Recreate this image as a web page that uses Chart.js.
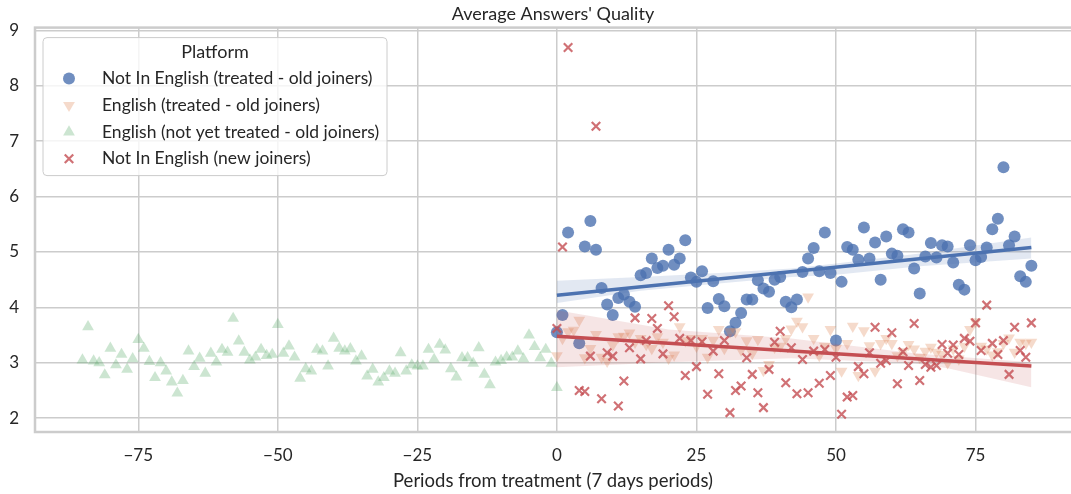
<!DOCTYPE html>
<html>
<head>
<meta charset="utf-8">
<script src="https://cdn.jsdelivr.net/npm/chart.js@4.4.1/dist/chart.umd.min.js"></script>
<style>
  html, body { margin: 0; padding: 0; background: #fff; }
</style>
</head>
<body>
<canvas id="chart" width="1071" height="494"></canvas>
<script>
// periods: green runs from -85 to 0, the other three from 0 to 85
const firstPeriodBefore = -85;
const firstPeriodAfter = 0;

// English (not yet treated - old joiners)
const greenValues = [
  3.05, 3.65, 3.03, 3.00, 2.78, 3.26, 2.96, 3.15, 2.88, 3.07,
  3.42, 3.26, 3.02, 2.73, 3.00, 2.85, 2.65, 2.45, 2.68, 3.21,
  2.93, 3.08, 2.81, 3.17, 3.01, 3.24, 3.19, 3.80, 3.39, 3.19,
  3.05, 3.10, 3.24, 3.13, 3.15, 3.69, 3.17, 3.30, 3.10, 2.72,
  2.89, 2.85, 3.24, 3.21, 2.94, 3.44, 3.26, 3.21, 3.25, 3.03,
  3.12, 2.76, 2.88, 2.65, 2.73, 2.85, 2.81, 3.18, 2.85, 2.96,
  2.94, 2.94, 3.24, 3.06, 3.33, 3.23, 2.89, 2.74, 3.09, 3.09,
  2.99, 3.27, 2.79, 2.60, 3.01, 3.04, 3.10, 3.10, 3.21, 3.07,
  3.50, 3.29, 3.09, 3.24, 2.99, 2.55
];

// Not In English (treated - old joiners), null = no value that week
const blueValues = [
  3.55, 3.86, 5.35, null, 3.35, 5.10, 5.56, 5.04, 4.35, 4.05,
  3.86, 4.17, 4.23, 4.10, 4.01, 4.58, 4.62, 4.88, 4.71, 4.75,
  5.04, 4.77, 4.88, 5.21, 4.54, 4.46, 4.65, 3.99, 4.47, 4.15,
  4.02, 3.57, 3.72, 3.90, 4.14, 4.14, 4.49, 4.34, 4.28, 4.50,
  4.55, 4.10, 4.00, 4.14, 4.64, 4.88, 5.07, 4.65, 5.35, 4.62,
  3.40, 4.46, 5.09, 5.04, 4.86, 5.44, 4.88, 5.17, 4.50, 5.28,
  4.97, 4.93, 5.41, 5.35, 4.70, 4.25, 4.92, 5.16, 4.90, 5.12,
  5.10, 4.81, 4.41, 4.32, 5.12, 4.85, 4.91, 5.08, 5.41, 5.60,
  6.53, 5.12, 5.28, 4.56, 4.46, 4.75
];

// English (treated - old joiners)
const orangeValues = [
  3.13, 3.44, 3.56, 3.59, 3.77, 3.09, 3.26, 3.51, 3.10, 3.03,
  3.32, 3.47, 3.48, 3.54, 3.37, 3.44, 3.33, 3.26, 3.47, 3.37,
  3.08, 3.14, 3.65, 3.40, 3.44, 3.30, 3.44, 3.10, 3.41, 3.60,
  3.26, 3.56, 3.56, 3.23, 3.40, 3.17, 3.42, 2.86, 2.97, 3.28,
  3.30, 3.44, 3.61, 3.75, 3.65, 4.19, 3.44, 3.13, 3.30, 3.60,
  3.26, 2.85, 3.35, 3.66, 2.77, 3.58, 3.31, 2.85, 3.35, 3.44,
  3.35, 3.13, 3.20, 3.33, 3.25, 3.10, 3.21, 3.28, 3.19, 3.15,
  3.00, 3.25, 3.07, 3.30, 3.60, 3.74, 3.30, 3.25, 3.14, 3.20,
  3.35, 3.45, 3.19, 3.37, 3.35, 3.37
];

// Not In English (new joiners)
const redValues = [
  3.62, 5.09, 8.69, null, 2.50, 2.48, 3.12, 7.27, 2.35, 3.18,
  3.12, 2.22, 2.67, 3.27, 3.81, 3.07, 3.40, 3.80, 3.62, 3.16,
  4.03, 3.83, 3.44, 2.77, 3.40, 2.93, 3.38, 2.43, 3.21, 2.80,
  3.40, 2.10, 2.50, 2.58, 3.09, 2.79, 2.46, 2.19, 2.88, 3.37,
  3.57, 2.64, 3.27, 2.44, 3.06, 2.46, 3.21, 2.63, 3.24, 2.77,
  3.10, 2.07, 2.38, 2.41, 2.93, 2.80, 3.18, 3.64, 2.99, 3.04,
  3.54, 2.62, 3.20, 2.95, 3.71, 2.68, 2.97, 2.92, 2.95, 3.33,
  3.17, 3.32, 3.15, 3.44, 3.39, 3.72, 3.22, 4.04, 3.35, 3.15,
  3.40, 2.79, 3.64, 3.22, 3.10, 3.72
];

// fitted lines and their confidence bands
const fitX = [0, 85];
const blueFit = [4.22, 5.08];
const redFit = [3.48, 2.94];
const blueBandX = [0, 15, 29, 42, 50, 65, 85];
const blueLow = [4.08, 4.30, 4.43, 4.55, 4.59, 4.74, 4.88];
const blueHigh = [4.48, 4.55, 4.62, 4.70, 4.79, 4.97, 5.26];
const redBandX = [0, 20, 42, 64, 70, 85];
const redLow = [2.92, 3.01, 3.08, 2.99, 2.90, 2.56];
const redHigh = [3.95, 3.60, 3.44, 3.17, 3.12, 3.01];

const xTicks = [-75, -50, -25, 0, 25, 50, 75];
const yTicks = [2, 3, 4, 5, 6, 7, 8, 9];

const BLUE = '76, 114, 176';
const ORANGE = '221, 132, 82';
const GREEN = '85, 168, 104';
const RED = '196, 78, 82';
const TEXT = '#262626';

function toPoints(values, start) {
  return values.map((v, i) => ({ x: start + i, y: v }));
}
function pairs(xs, ys) {
  return xs.map((x, i) => ({ x: x, y: ys[i] }));
}

Chart.defaults.font.family = 'Lato, "DejaVu Sans", sans-serif';
Chart.defaults.color = TEXT;

// light grey frame round the plot area
const frame = {
  id: 'frame',
  beforeDatasetsDraw(chart) {
    const a = chart.chartArea;
    const ctx = chart.ctx;
    ctx.save();
    ctx.strokeStyle = '#cccccc';
    ctx.lineWidth = 2.5;
    ctx.strokeRect(a.left, a.top, a.right - a.left + 10, a.bottom - a.top);
    ctx.restore();
  }
};

// boxed legend in the upper left corner, like matplotlib's
const legendBox = {
  id: 'legendBox',
  afterDraw(chart) {
    const ctx = chart.ctx;
    const a = chart.chartArea;
    const x = a.left + 8, y = a.top + 10, w = 344, h = 138;
    const items = chart.data.datasets.filter(d => d.inLegend);
    ctx.save();
    ctx.beginPath();
    ctx.roundRect(x, y, w, h, 4);
    ctx.fillStyle = 'rgba(255,255,255,0.8)';
    ctx.fill();
    ctx.strokeStyle = '#cccccc';
    ctx.lineWidth = 1;
    ctx.stroke();

    ctx.fillStyle = TEXT;
    ctx.textBaseline = 'middle';
    ctx.textAlign = 'center';
    ctx.font = '18px ' + Chart.defaults.font.family;
    ctx.fillText('Platform', x + w / 2, y + 15);

    ctx.textAlign = 'left';
    ctx.font = '17.5px ' + Chart.defaults.font.family;
    items.forEach((d, i) => {
      const cy = y + 41 + i * 26.7;
      ctx.fillStyle = d.backgroundColor;
      ctx.strokeStyle = d.borderColor;
      ctx.lineWidth = d.borderWidth || 0;
      Chart.helpers.drawPoint(ctx, {
        pointStyle: d.pointStyle,
        radius: d.pointRadius,
        rotation: d.rotation || 0,
        borderWidth: d.borderWidth || 0
      }, x + 26, cy);
      ctx.fillStyle = TEXT;
      ctx.fillText(d.label, x + 59, cy);
    });
    ctx.restore();
  }
};

new Chart(document.getElementById('chart'), {
  type: 'scatter',
  data: {
    datasets: [
      { type: 'line', data: pairs(blueBandX, blueLow), borderWidth: 0, pointRadius: 0, fill: false, order: 5 },
      { type: 'line', data: pairs(blueBandX, blueHigh), borderWidth: 0, pointRadius: 0,
        fill: '-1', backgroundColor: 'rgba(' + BLUE + ', 0.16)', order: 5 },
      { type: 'line', data: pairs(redBandX, redLow), borderWidth: 0, pointRadius: 0, fill: false, order: 5 },
      { type: 'line', data: pairs(redBandX, redHigh), borderWidth: 0, pointRadius: 0,
        fill: '-1', backgroundColor: 'rgba(' + RED + ', 0.15)', order: 5 },
      { type: 'line', data: pairs(fitX, blueFit), borderColor: 'rgb(' + BLUE + ')', borderWidth: 3.5,
        pointRadius: 0, fill: false, order: 1 },
      { type: 'line', data: pairs(fitX, redFit), borderColor: 'rgb(' + RED + ')', borderWidth: 3.5,
        pointRadius: 0, fill: false, order: 1 },
      {
        label: 'Not In English (treated - old joiners)', inLegend: true,
        data: toPoints(blueValues, firstPeriodAfter),
        pointStyle: 'circle', pointRadius: 6,
        backgroundColor: 'rgba(' + BLUE + ', 0.8)', borderColor: 'rgba(' + BLUE + ', 0.8)', borderWidth: 0,
        order: 10
      },
      {
        label: 'English (treated - old joiners)', inLegend: true,
        data: toPoints(orangeValues, firstPeriodAfter),
        pointStyle: 'triangle', rotation: 180, pointRotation: 180, pointRadius: 6.8,
        backgroundColor: 'rgba(' + ORANGE + ', 0.3)', borderColor: 'rgba(' + ORANGE + ', 0.3)', borderWidth: 0,
        order: 9
      },
      {
        label: 'English (not yet treated - old joiners)', inLegend: true,
        data: toPoints(greenValues, firstPeriodBefore),
        pointStyle: 'triangle', pointRadius: 6.8,
        backgroundColor: 'rgba(' + GREEN + ', 0.3)', borderColor: 'rgba(' + GREEN + ', 0.3)', borderWidth: 0,
        order: 8
      },
      {
        label: 'Not In English (new joiners)', inLegend: true,
        data: toPoints(redValues, firstPeriodAfter),
        pointStyle: 'crossRot', pointRadius: 6,
        backgroundColor: 'rgba(' + RED + ', 0.8)', borderColor: 'rgba(' + RED + ', 0.8)', borderWidth: 2.2,
        order: 7
      }
    ]
  },
  options: {
    responsive: false,
    animation: false,
    spanGaps: false,
    layout: { autoPadding: false, padding: { left: 0, right: 0, top: 0, bottom: 2 } },
    plugins: {
      legend: { display: false },
      tooltip: { enabled: false },
      title: {
        display: true,
        fullSize: false,
        text: "Average Answers' Quality",
        color: TEXT,
        font: { size: 18, weight: 'normal' },
        padding: { top: 3, bottom: 3 }
      }
    },
    scales: {
      x: {
        type: 'linear',
        min: -93.5,
        max: 92.1,
        afterBuildTicks: s => { s.ticks = xTicks.map(v => ({ value: v })); },
        afterFit: s => { s.height = 60; s.paddingLeft = 0; s.paddingRight = 0; },
        grid: { color: '#cccccc', lineWidth: 1.5, drawTicks: false },
        border: { display: false },
        ticks: {
          padding: 13,
          color: TEXT,
          font: { size: 17 },
          callback: v => (v < 0 ? '\u2212' + Math.abs(v) : String(v))
        },
        title: {
          display: true,
          text: 'Periods from treatment (7 days periods)',
          color: TEXT,
          font: { size: 18.5 },
          padding: { top: 0, bottom: 0 }
        }
      },
      y: {
        type: 'linear',
        min: 1.75,
        max: 9.05,
        afterBuildTicks: s => { s.ticks = yTicks.map(v => ({ value: v })); },
        afterFit: s => { s.width = 35; },
        grid: { color: '#cccccc', lineWidth: 1.5, drawTicks: false },
        border: { display: false },
        ticks: { padding: 16, color: TEXT, font: { size: 17 } }
      }
    }
  },
  plugins: [frame, legendBox]
});
</script>
</body>
</html>
